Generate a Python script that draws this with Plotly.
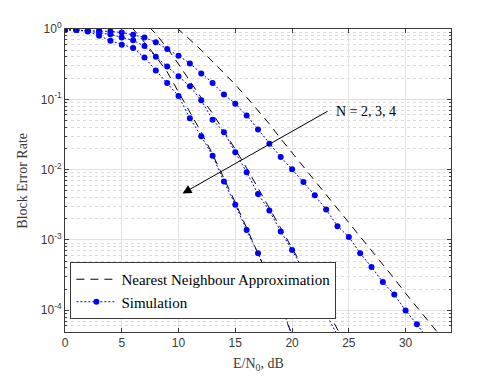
import plotly.graph_objects as go

# Data (SNR in dB, block error rate)
snr_sim_n4 = list(range(0, 21))
bler_sim_n4 = [0.977, 0.968, 0.923, 0.804, 0.681, 0.597, 0.536, 0.394, 0.257, 0.171,
               0.111, 0.0537, 0.0299, 0.0158, 0.00676, 0.00316, 0.00138, 6.46e-4,
               2.82e-4, 1.17e-4, 4.47e-5]

snr_sim_n3 = list(range(0, 25))
bler_sim_n3 = [0.977, 0.968, 0.933, 0.877, 0.839, 0.760, 0.689, 0.571, 0.403, 0.293,
               0.213, 0.153, 0.0968, 0.0513, 0.0341, 0.0177, 0.00916, 0.0045, 0.00261,
               0.00132, 7.16e-4, 3.70e-4, 1.82e-4, 8.91e-5, 4.37e-5]

snr_sim_n2 = list(range(0, 33))
bler_sim_n2 = [0.977, 0.968, 0.955, 0.946, 0.923, 0.891, 0.830, 0.760, 0.646, 0.518,
               0.416, 0.324, 0.233, 0.171, 0.117, 0.0867, 0.0590, 0.0372, 0.0234,
               0.0151, 0.0101, 0.00667, 0.00430, 0.00271, 0.00157, 0.00110, 6.46e-4,
               4.11e-4, 2.51e-4, 1.67e-4, 9.89e-5, 6.31e-5, 3.80e-5]

snr_nn_n4 = list(range(5, 22))
bler_nn_n4 = [1.45, 1.0, 0.646, 0.407, 0.245, 0.126, 0.0661, 0.0339, 0.0166, 0.00759,
              0.00339, 0.00148, 6.46e-4, 2.75e-4, 1.12e-4, 4.47e-5, 1.78e-5]

snr_nn_n3 = list(range(6, 26))
bler_nn_n3 = [2.24, 1.26, 0.851, 0.537, 0.316, 0.182, 0.105, 0.0631, 0.0355, 0.0195,
              0.0105, 0.0055, 0.00288, 0.00148, 7.76e-4, 3.98e-4, 2.04e-4, 1.05e-4,
              5.37e-5, 2.75e-5]

snr_nn_n2 = list(range(8, 35))
bler_nn_n2 = [1.91, 1.38, 1.0, 0.708, 0.501, 0.347, 0.240, 0.162, 0.107, 0.0692,
              0.0447, 0.0275, 0.0174, 0.011, 0.00708, 0.00447, 0.00282, 0.00178,
              0.00112, 7.08e-4, 4.47e-4, 2.82e-4, 1.74e-4, 1.10e-4, 7.08e-5, 4.47e-5,
              2.82e-5]

y_tickvals = [1e0, 1e-1, 1e-2, 1e-3, 1e-4]
y_ticktext = ['10<sup>0</sup>', '10<sup>-1</sup>', '10<sup>-2</sup>',
              '10<sup>-3</sup>', '10<sup>-4</sup>']
x_tickvals = [0, 5, 10, 15, 20, 25, 30]

minor_vals = [m * 10.0 ** e for e in range(-5, 0) for m in range(2, 10)]

serif = "Liberation Serif"
sans = "Liberation Sans"
axis_col = "#3a3a3a"

fig = go.Figure()

nn_sets = [(snr_nn_n4, bler_nn_n4), (snr_nn_n3, bler_nn_n3), (snr_nn_n2, bler_nn_n2)]
for i, (sx, sy) in enumerate(nn_sets):
    fig.add_trace(go.Scatter(x=sx, y=sy, mode='lines',
                             line=dict(color='black', width=1, dash='8px,6px'),
                             name='Nearest Neighbour Approximation',
                             legendgroup='nn', showlegend=(i == 0)))

sim_sets = [(snr_sim_n4, bler_sim_n4), (snr_sim_n3, bler_sim_n3), (snr_sim_n2, bler_sim_n2)]
for i, (sx, sy) in enumerate(sim_sets):
    fig.add_trace(go.Scatter(x=sx, y=sy, mode='lines+markers',
                             line=dict(color='#0000ff', width=1, dash='2px,2px'),
                             marker=dict(color='#0000ff', size=6),
                             name='Simulation',
                             legendgroup='sim', showlegend=(i == 0)))

# arrow + label
fig.add_annotation(x=10.35, y=-2.34, ax=23.27, ay=-1.157, axref='x', ayref='y',
                   xref='x', yref='y', text='', showarrow=True,
                   arrowhead=2, arrowsize=1.8, arrowwidth=1, arrowcolor='black')
fig.add_annotation(x=23.65, y=-1.17, xref='x', yref='y', text='N = 2, 3, 4',
                   showarrow=False, xanchor='left', yanchor='middle',
                   font=dict(family=serif, size=14, color='black'))

# axis titles
fig.add_annotation(x=0.5, y=-0.107, xref='paper', yref='paper',
                   text='E/N<sub>0</sub>, dB', showarrow=False,
                   xanchor='center', yanchor='middle',
                   font=dict(family=serif, size=14, color=axis_col))
fig.add_annotation(x=-0.111, y=0.5, xref='paper', yref='paper',
                   text='Block Error Rate', showarrow=False, textangle=-90,
                   xanchor='center', yanchor='middle',
                   font=dict(family=serif, size=14, color=axis_col))

# page body adds an 8px offset, so the figure is drawn 8px smaller
fig.update_layout(
    width=490, height=373,
    margin=dict(l=57, r=47, t=21, b=49, autoexpand=False),
    paper_bgcolor='white', plot_bgcolor='white',
    showlegend=True,
    legend=dict(x=0.014, y=0.043, xanchor='left', yanchor='bottom',
                bgcolor='white', bordercolor=axis_col, borderwidth=1,
                font=dict(family=serif, size=15, color='black'),
                itemwidth=40, tracegroupgap=0),
)

fig.update_xaxes(
    range=[0, 34], tickvals=x_tickvals, automargin=False,
    showline=True, linecolor=axis_col, linewidth=1, mirror='ticks',
    ticks='inside', ticklen=4, tickcolor=axis_col,
    showgrid=True, gridcolor='#e2e2e2', gridwidth=1, zeroline=False,
    tickfont=dict(family=sans, size=12, color=axis_col),
)

fig.update_yaxes(
    type='log', range=[-4.31, 0], automargin=False,
    tickmode='array', tickvals=y_tickvals, ticktext=y_ticktext,
    showline=True, linecolor=axis_col, linewidth=1, mirror='ticks',
    ticks='inside', ticklen=4, tickcolor=axis_col,
    showgrid=True, gridcolor='#e2e2e2', gridwidth=1, zeroline=False,
    tickfont=dict(family=sans, size=12, color=axis_col),
    minor=dict(tickmode='array', tickvals=minor_vals, ticks='inside', ticklen=2,
               tickcolor=axis_col, showgrid=True, gridcolor='#dadada', griddash='dot',
               gridwidth=1),
)

fig.write_html("out.html")
